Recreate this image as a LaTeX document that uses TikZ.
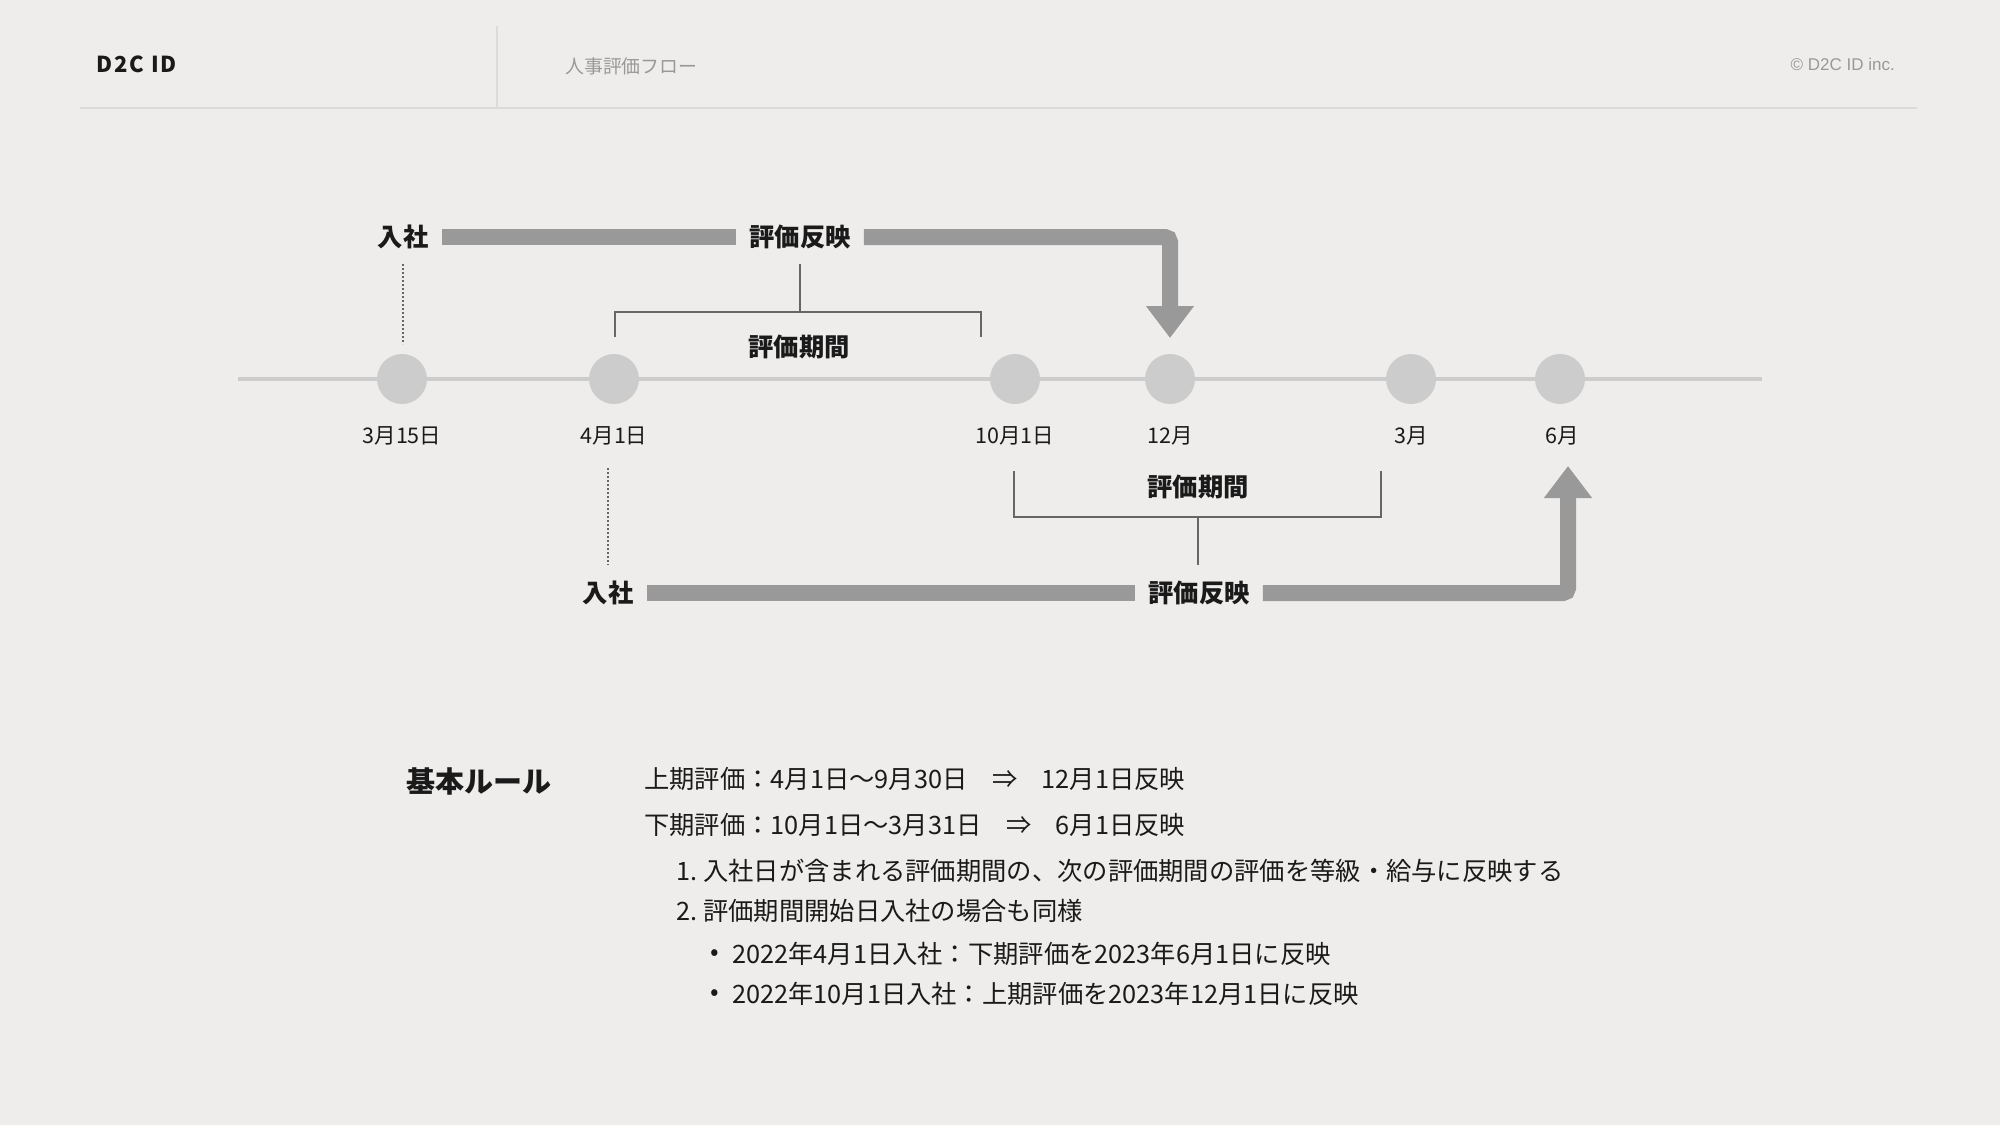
\documentclass[tikz,border=0pt]{standalone}
\usepackage{fontspec}
\setmainfont{Noto Sans CJK JP}
\newfontfamily\latinfont{Liberation Sans}
\newfontfamily\logofont{Noto Sans CJK JP}[LetterSpace=9]
\usetikzlibrary{arrows.meta,calc}
\definecolor{bg}{HTML}{EEEDEB}
\definecolor{ink}{HTML}{1A1A1A}
\definecolor{barc}{HTML}{999999}
\definecolor{dotc}{HTML}{CCCCCC}
\definecolor{brkc}{HTML}{666666}
\definecolor{hdrline}{HTML}{DCDBD9}
\definecolor{graytxt}{HTML}{999999}
\tikzset{
  lbl/.style={font=\fontsize{25.3}{30}\selectfont\bfseries, text=ink, inner xsep=13pt, inner ysep=0pt},
  datelbl/.style={font=\fontsize{21.5}{25}\selectfont, text=ink, inner sep=0pt},
  dotnode/.style={circle, fill=dotc, minimum size=50pt, inner sep=0pt},
  bar/.style={line width=16pt, draw=barc},
  brk/.style={line width=1.6pt, draw=brkc},
  dotline/.style={line width=1.2pt, draw=brkc, dash pattern=on 2pt off 2pt},
  rule/.style={font=\fontsize{25.3}{30}\selectfont, text=ink, anchor=west, inner sep=0pt},
}
\begin{document}
\begin{tikzpicture}[x=1pt,y=-1pt]
\fill[bg] (0,0) rectangle (2000,1125);
\useasboundingbox (0,0) rectangle (2000,1125);
% header
\coordinate (hl1) at (80,108);
\coordinate (hl2) at (1917,108);
\coordinate (vs1) at (497,26);
\coordinate (vs2) at (497,108);
\draw[hdrline, line width=1.5pt] (hl1) -- (hl2);
\draw[hdrline, line width=1.5pt] (vs1) -- (vs2);
\node[anchor=west, inner sep=0pt, font=\logofont\fontsize{22}{26}\selectfont\bfseries, text=ink] (logo) at (96,64) {D2C ID};
\node[anchor=west, inner sep=0pt, font=\fontsize{18.9}{22}\selectfont, text=graytxt] (title) at (565,66) {人事評価フロー};
\node[anchor=east, inner sep=0pt, font=\latinfont\fontsize{17}{20}\selectfont, text=graytxt] (copy) at (1895,64) {© D2C ID inc.};
% timeline
\coordinate (tl1) at (238,379);
\coordinate (tl2) at (1762,379);
\draw[dotc, line width=4pt] (tl1) -- (tl2);
\node[dotnode] (c1) at (402,379) {};
\node[dotnode] (c2) at (614,379) {};
\node[dotnode] (c3) at (1015,379) {};
\node[dotnode] (c4) at (1170,379) {};
\node[dotnode] (c5) at (1411,379) {};
\node[dotnode] (c6) at (1560,379) {};
\node[datelbl] (d1) at (402,436) {3月15日};
\node[datelbl] (d2) at (614,436) {4月1日};
\node[datelbl] (d3) at (1015,436) {10月1日};
\node[datelbl] (d4) at (1170,436) {12月};
\node[datelbl] (d5) at (1411,436) {3月};
\node[datelbl] (d6) at (1562,436) {6月};
% top flow
\node[lbl] (join1) at (403,237) {入社};
\node[lbl] (refl1) at (800,237) {評価反映};
\node[lbl] (per1) at (799,347) {評価期間};
\coordinate (tip1) at (1170,338);
\draw[bar] (join1.east) -- (refl1.west);
\draw[bar, rounded corners=5pt, -{Triangle[width=46pt,length=32pt]}] (refl1.east) -| (tip1);
\coordinate (t1a) at (615,337);
\coordinate (t1b) at (615,312);
\coordinate (t1c) at (981,312);
\coordinate (t1d) at (981,337);
\coordinate (t1m) at (800,312);
\coordinate (t1top) at (800,264);
\draw[brk] (t1a) -- (t1b) -- (t1c) -- (t1d);
\draw[brk] (t1top) -- (t1m);
\coordinate (dl1a) at (403,264);
\coordinate (dl1b) at (403,344);
\draw[dotline] (dl1a) -- (dl1b);
% bottom flow
\node[lbl] (join2) at (608,593) {入社};
\node[lbl] (refl2) at (1199,593) {評価反映};
\node[lbl] (per2) at (1198,487) {評価期間};
\coordinate (tip2) at (1568,466);
\draw[bar] (join2.east) -- (refl2.west);
\draw[bar, rounded corners=5pt, -{Triangle[width=46pt,length=32pt]}] (refl2.east) -| (tip2);
\coordinate (t2a) at (1014,471);
\coordinate (t2b) at (1014,517);
\coordinate (t2c) at (1381,517);
\coordinate (t2d) at (1381,471);
\coordinate (t2m) at (1198,517);
\coordinate (t2bot) at (1198,565);
\draw[brk] (t2a) -- (t2b) -- (t2c) -- (t2d);
\draw[brk] (t2m) -- (t2bot);
\coordinate (dl2a) at (608,468);
\coordinate (dl2b) at (608,565);
\draw[dotline] (dl2a) -- (dl2b);
% rules
\node[anchor=west, inner sep=0pt, font=\fontsize{29}{34}\selectfont\bfseries, text=ink] (rtitle) at (406,781) {基本ルール};
\node[rule] (r1) at (644,779) {上期評価：4月1日〜9月30日\hspace{25pt}⇒\hspace{24pt}12月1日反映};
\node[rule] (r2) at (644,825) {下期評価：10月1日〜3月31日\hspace{25pt}⇒\hspace{24pt}6月1日反映};
\node[rule] (r3) at (676,871) {1.\hspace{6pt}入社日が含まれる評価期間の、次の評価期間の評価を等級・給与に反映する};
\node[rule] (r4) at (676,911) {2.\hspace{6pt}評価期間開始日入社の場合も同様};
\node[rule] (b1) at (710,955) {•};
\node[rule] (r5) at (732,954) {2022年4月1日入社：下期評価を2023年6月1日に反映};
\node[rule] (b2) at (710,995) {•};
\node[rule] (r6) at (732,994) {2022年10月1日入社：上期評価を2023年12月1日に反映};
\end{tikzpicture}
\end{document}
